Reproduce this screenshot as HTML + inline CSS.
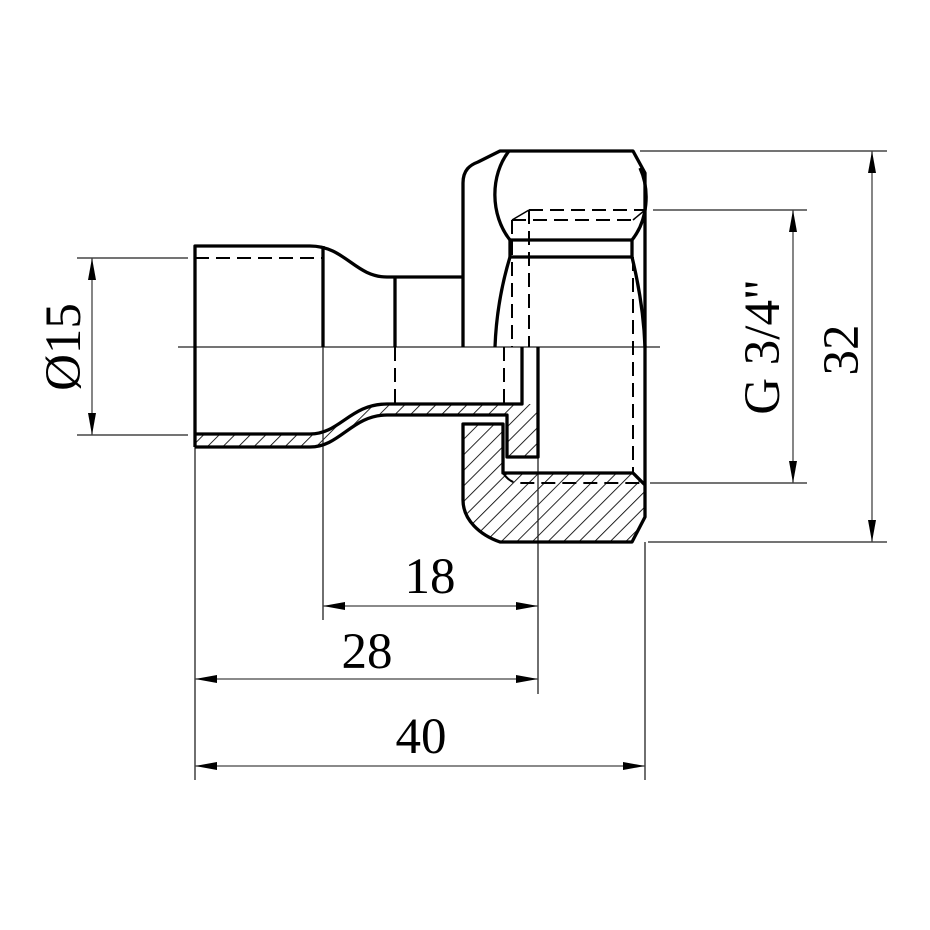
<!DOCTYPE html>
<html><head><meta charset="utf-8"><style>
html,body{margin:0;padding:0;background:#fff;}
svg{display:block;}
text{font-family:"Liberation Serif",serif;fill:#000;}
</style></head><body>
<svg width="930" height="930" viewBox="0 0 930 930" xmlns="http://www.w3.org/2000/svg">
<defs>
<pattern id="h" patternUnits="userSpaceOnUse" width="11" height="11" patternTransform="rotate(45)">
<line x1="0" y1="0" x2="0" y2="11" stroke="#000" stroke-width="1.7"/>
</pattern>
<marker id="a" viewBox="0 0 22 8" refX="22" refY="4" markerWidth="22" markerHeight="8" markerUnits="userSpaceOnUse" orient="auto-start-reverse">
<path d="M0,0 L22,4 L0,8 Z" fill="#000"/>
</marker>
</defs>

<g fill="url(#h)" stroke="none">
<path d="M195,434 L310,434 C340,434 350,404 387,404 L522,404 L538,404 L538,457 L507,457 L507,415 L387,415 C352,415 340,447 310,447 L195,447 Z"/>
<path d="M463,424 L503,424 L503,473 L633,473 L645,485 L645,517 L632,542 L500,542 C480,535 463,520 463,500 Z"/>
</g>

<g stroke="#222" stroke-width="1.3" fill="none">
<line x1="178" y1="347" x2="660" y2="347"/>
<line x1="77" y1="258" x2="188" y2="258"/>
<line x1="77" y1="435" x2="188" y2="435"/>
<line x1="195" y1="447" x2="195" y2="780"/>
<line x1="323" y1="347" x2="323" y2="620"/>
<line x1="538" y1="457" x2="538" y2="694"/>
<line x1="645" y1="542" x2="645" y2="780"/>
<line x1="640" y1="151" x2="887" y2="151"/>
<line x1="648" y1="542" x2="887" y2="542"/>
<line x1="653" y1="210" x2="807" y2="210"/>
<line x1="650" y1="483" x2="807" y2="483"/>
</g>

<g stroke="#444" stroke-width="1.3" fill="none" marker-start="url(#a)" marker-end="url(#a)">
<line x1="92" y1="258" x2="92" y2="435"/>
<line x1="323" y1="606" x2="538" y2="606"/>
<line x1="195" y1="679" x2="538" y2="679"/>
<line x1="195" y1="766" x2="645" y2="766"/>
<line x1="793" y1="210" x2="793" y2="483"/>
<line x1="872" y1="151" x2="872" y2="542"/>
</g>

<g stroke="#000" stroke-width="3.3" fill="none" stroke-linejoin="round">
<path d="M195,447 L195,246 L310,246 C345,246 355,277 387,277 L463,277"/>
<line x1="323" y1="246" x2="323" y2="347"/>
<line x1="395" y1="277" x2="395" y2="347"/>
<path d="M195,447 L310,447 C340,447 352,415 387,415 L507,415 L507,457 L538,457 L538,347"/>
<path d="M195,434 L310,434 C340,434 350,404 387,404 L522,404 L522,347"/>
<path d="M463,347 L463,183 C463,170 470,165 478,162 L500,151 L633,151 L645,173 L645,517 L632,542 L500,542 C480,535 463,520 463,500 L463,424 L503,424 L503,473 L633,473 L645,485"/>
<path d="M509,151 C490,175 490,215 510,240"/>
<path d="M640,168 C650,190 648,220 632,240"/>
<line x1="510" y1="240" x2="632" y2="240"/>
<line x1="510" y1="257" x2="632" y2="257"/>
<line x1="510" y1="240" x2="510" y2="257"/>
<line x1="632" y1="240" x2="632" y2="257"/>
<path d="M510,257 C500,290 496,320 495,347"/>
<path d="M632,257 C640,290 644,320 645,347"/>
</g>

<g stroke="#000" stroke-width="2" fill="none" stroke-dasharray="14,7">
<line x1="195" y1="258" x2="323" y2="258"/>
<line x1="529" y1="210" x2="645" y2="210"/>
<line x1="512" y1="220" x2="633" y2="220"/>
<line x1="512" y1="220" x2="512" y2="347"/>
<line x1="529" y1="210" x2="529" y2="347"/>
<line x1="633" y1="257" x2="633" y2="473"/>
<line x1="395" y1="347" x2="395" y2="404"/>
<line x1="504" y1="347" x2="504" y2="404"/>
<path d="M503,473 C508,480 512,483 520,483 L645,483"/>
</g>
<g stroke="#000" stroke-width="1.5" fill="none">
<line x1="512" y1="220" x2="529" y2="210"/>
<line x1="633" y1="220" x2="645" y2="210"/>
</g>

<g font-size="51">
<text x="430" y="593" text-anchor="middle">18</text>
<text x="367" y="668" text-anchor="middle">28</text>
<text x="421" y="753" text-anchor="middle">40</text>
<text transform="translate(80,347) rotate(-90)" text-anchor="middle">Ø15</text>
<text transform="translate(779,347) rotate(-90)" text-anchor="middle">G 3/4"</text>
<text transform="translate(858,350) rotate(-90)" text-anchor="middle">32</text>
</g>
</svg>
</body></html>
